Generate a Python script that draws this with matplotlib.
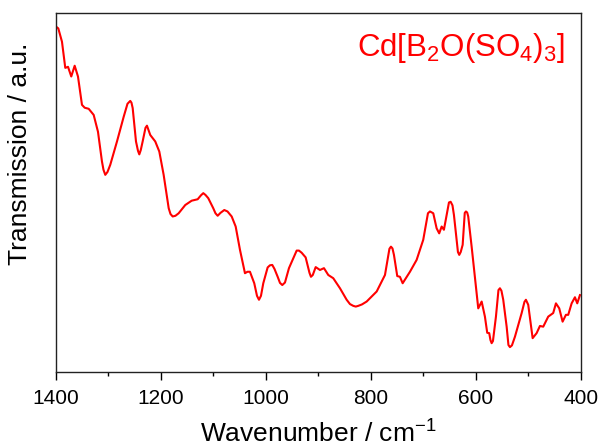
import numpy as np
import matplotlib as mpl
import matplotlib.pyplot as plt
from matplotlib.ticker import MultipleLocator

mpl.rcParams['font.family'] = ['Liberation Sans', 'DejaVu Sans']
mpl.rcParams['mathtext.fontset'] = 'custom'
mpl.rcParams['mathtext.rm'] = 'Liberation Sans'
mpl.rcParams['mathtext.it'] = 'Liberation Sans:italic'

# IR spectrum (wavenumber in cm-1, transmission in a.u.)
wavenumber = [1400, 1395.6, 1388.6, 1382.3, 1377.1, 1370.9, 1364.4, 1358.1, 1350.5, 1345.3,
              1337.7, 1328.2, 1320, 1312.4, 1309.5, 1306.1, 1301.9, 1296.6, 1283.8, 1271,
              1263.8, 1258.5, 1256.2, 1253.9, 1247.6, 1243.8, 1241.3, 1238.5, 1234.9, 1229.5,
              1226.7, 1223.8, 1220.4, 1210.9, 1203.2, 1194.9, 1185.3, 1181.9, 1177.7, 1172.4,
              1166.3, 1153.7, 1141.5, 1130.1, 1123.8, 1119.4, 1115.2, 1109.9, 1100.4, 1096.2,
              1092, 1086.7, 1079.4, 1073.3, 1065.3, 1057.7, 1049.5, 1040, 1035.2, 1030.5,
              1022.3, 1017.1, 1013.3, 1009.5, 1005.1, 996.8, 992.4, 988, 983.8, 977.7,
              973.3, 968.9, 963.8, 956.2, 941.5, 937.1, 932, 924.4, 917.1, 914.3,
              910.8, 905.3, 897.1, 889.5, 881.3, 871.8, 859, 846.3, 840, 833.7,
              828.9, 824.2, 817.1, 808.2, 789.1, 773.3, 764.8, 761.9, 759, 756.2,
              749.9, 744.8, 739.6, 725.7, 713, 700.4, 691.4, 687.6, 681.3, 674.9,
              670, 665.3, 661, 651.4, 648.2, 644.7, 641.9, 634.3, 631.8, 629,
              625.3, 621.3, 619, 616.7, 614.7, 608.2, 600, 595.6, 589.1, 582.9,
              578.5, 574.7, 572.4, 570.1, 567.6, 561.9, 557.1, 554.3, 551.4, 548,
              541.5, 538.1, 535.2, 531.4, 525.7, 512.9, 507.6, 504.8, 500.4, 492,
              484.4, 478.1, 471.8, 462.3, 452.8, 447.6, 441.3, 434.9, 428.6, 424.2,
              417.7, 411.4, 407, 401.9]
transmission = [96.2, 95.7, 92.0, 84.7, 85.0, 82.3, 85.3, 82.3, 74.4, 73.6,
                73.3, 71.6, 66.9, 58.6, 56.3, 54.9, 55.7, 57.7, 64.2, 71.1,
                74.7, 75.5, 75.0, 73.5, 64.2, 61.6, 60.6, 61.8, 64.2, 68.0,
                68.6, 67.4, 66.0, 64.2, 61.4, 54.9, 45.6, 44.0, 43.3, 43.5,
                44.2, 46.5, 47.7, 48.1, 49.2, 49.8, 49.3, 48.4, 45.6, 44.2,
                43.5, 44.3, 45.1, 44.7, 43.3, 40.5, 34.0, 27.5, 27.9, 27.9,
                24.7, 21.2, 20.1, 21.2, 24.7, 29.1, 29.7, 29.8, 28.7, 26.5,
                24.8, 24.2, 24.9, 28.9, 33.8, 33.8, 33.2, 31.9, 27.6, 26.5,
                27.0, 29.2, 28.4, 28.9, 27.0, 26.1, 23.3, 20.1, 18.9, 18.4,
                18.2, 18.4, 18.8, 19.6, 22.4, 27.0, 34.3, 34.9, 34.4, 32.6,
                26.7, 26.5, 24.7, 27.9, 31.2, 36.8, 44.2, 44.7, 44.2, 40.0,
                38.6, 40.5, 39.6, 47.2, 47.4, 46.4, 43.7, 33.4, 32.6, 33.4,
                35.4, 44.3, 44.7, 44.4, 43.3, 34.9, 23.8, 17.7, 19.6, 15.4,
                10.9, 10.8, 8.9, 8.0, 8.6, 15.4, 22.8, 23.3, 22.6, 20.1,
                12.6, 7.5, 6.9, 7.4, 9.8, 16.4, 19.5, 20.1, 18.7, 9.4,
                10.8, 12.8, 12.6, 15.4, 16.4, 19.1, 17.7, 14.0, 15.9, 15.9,
                19.1, 20.8, 19.1, 21.4]

fig = plt.figure(figsize=(6.02, 4.47), dpi=100)
ax = fig.add_axes([0.093, 0.168, 0.872, 0.803])

ax.plot(wavenumber, transmission, color='#ff0000', linewidth=1.5, solid_joinstyle='round')

ax.set_xlim(1400, 400)
ax.set_ylim(0, 100)
ax.xaxis.set_major_locator(MultipleLocator(200))
ax.xaxis.set_minor_locator(MultipleLocator(100))
ax.tick_params(axis='x', which='major', direction='out', length=6, width=1, labelsize=15, pad=6)
ax.tick_params(axis='x', which='minor', direction='out', length=3, width=1)
ax.set_yticks([])
for s in ax.spines.values():
    s.set_linewidth(1.0)
    s.set_color('#222222')

ax.set_xlabel('Wavenumber / cm$^{-1}$', fontsize=19, labelpad=9)
ax.set_ylabel('Transmission / a.u.', fontsize=19)
ax.yaxis.set_label_coords(-0.045, 0.607)

ax.text(0.97, 0.88, r'Cd[B$_2$O(SO$_4$)$_3$]', transform=ax.transAxes,
        ha='right', va='baseline', fontsize=22.5, color='#ff0000')

plt.savefig('out.png', dpi=100)
